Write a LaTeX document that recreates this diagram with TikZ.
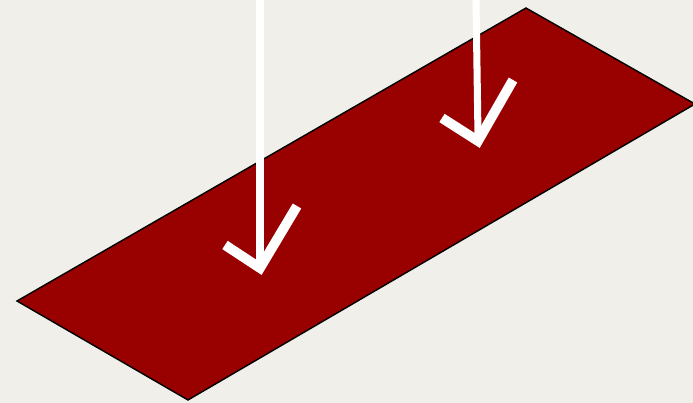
\documentclass[tikz,border=0pt]{standalone}
\usepackage{tikz}
\usetikzlibrary{calc}

\definecolor{paper}{HTML}{F0EFEA}
\definecolor{plate}{HTML}{990000}

\begin{document}
\begin{tikzpicture}[x=0.01cm,y=-0.01cm,
  shaft/.style={draw=white,line width=2pt},
  chevron/.style={draw=white,line width=2.8pt,miter limit=10}]
  % background and bounding box
  \fill[paper] (0,0) rectangle (693,403);
  \useasboundingbox (0,0) rectangle (693,403);
  % the plate
  \coordinate (L) at (17,301); \coordinate (T) at (526,8);
  \coordinate (R) at (695,104); \coordinate (B) at (188,400);
  \draw[fill=plate,line width=0.4pt] (L)--(T)--(R)--(B)--cycle;
  % first arrow
  \coordinate (a1) at (260,0); \coordinate (t1) at (260,268);
  \draw[shaft] (a1)--($(t1)+(0,-6)$);
  \draw[chevron] (225,245)--(t1)--(297,206);
  % second arrow
  \coordinate (a2) at (476,0); \coordinate (t2) at (478,141);
  \draw[shaft] (a2)--($(t2)+(0,-6)$);
  \draw[chevron] (442,118)--(t2)--(513,80);
\end{tikzpicture}
\end{document}
